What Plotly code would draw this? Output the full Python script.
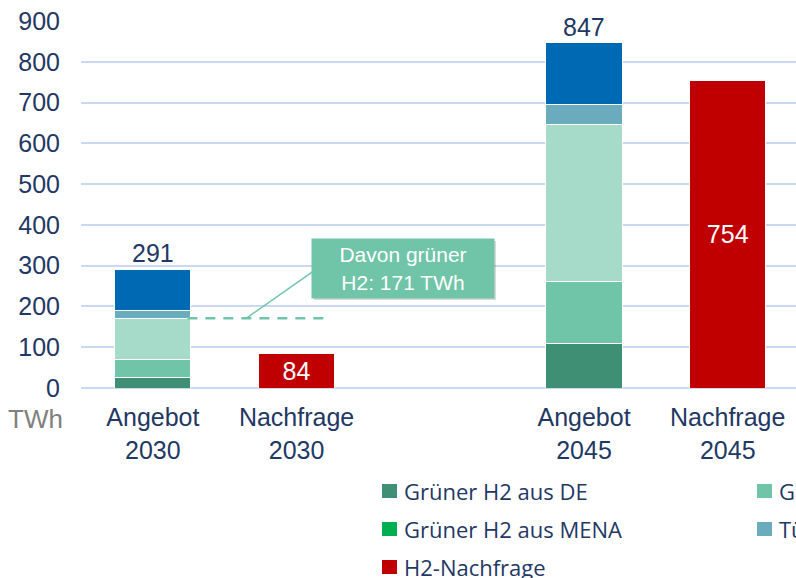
import plotly.graph_objects as go

# categories (the blank one is the gap between 2030 and 2045)
categories = ["Angebot<br>2030", "Nachfrage<br>2030", " ", "Angebot<br>2045", "Nachfrage<br>2045"]
supply_x = ["Angebot<br>2030", "Angebot<br>2045"]
demand_x = ["Nachfrage<br>2030", "Nachfrage<br>2045"]

# supply series in TWh (bottom to top)
green_de = [25, 108]
green_eu = [46, 152]
green_import = [100, 387]
green_mena = [0, 0]
turquoise = [19, 49]
blue = [101, 151]
demand = [84, 754]

series = [
    ("Grüner H2 aus DE", green_de, "#3E8F74"),
    ("Grüner H2 aus EU", green_eu, "#70C4A8"),
    ("Grüner H2 Import", green_import, "#A6DBC9"),
    ("Grüner H2 aus MENA", green_mena, "#00B050"),
    ("Türkiser H2", turquoise, "#6AABBE"),
    ("Blauer H2", blue, "#0069B4"),
]

NAVY = "#1F3864"
FONT = "Liberation Sans, Arial, sans-serif"

fig = go.Figure()
for name, vals, color in series:
    fig.add_trace(go.Bar(
        x=supply_x, y=vals, name=name, marker_color=color,
        marker_line=dict(color="white", width=1), showlegend=False,
    ))

fig.add_trace(go.Bar(
    x=demand_x, y=demand, name="H2-Nachfrage", marker_color="#C00000",
    marker_line=dict(color="white", width=1), showlegend=False,
    text=[str(v) for v in demand], textposition="inside",
    insidetextanchor="middle", textangle=0,
    textfont=dict(color="white", size=25, family=FONT),
))

# totals above supply bars
totals = [sum(s[1][i] for s in series) for i in range(len(supply_x))]
for xv, tot in zip(supply_x, totals):
    fig.add_annotation(x=xv, y=tot, text=str(tot), showarrow=False,
                       yanchor="bottom", font=dict(size=25, color=NAVY, family=FONT))

# green share 2030 callout
green_2030 = green_de[0] + green_eu[0] + green_import[0] + green_mena[0]
fig.add_shape(type="line", xref="x", yref="y", x0=0.24, x1=1.23, y0=green_2030, y1=green_2030,
              line=dict(color="#70C4A8", width=2.5, dash="10px,8px"))
fig.add_shape(type="line", xref="x", yref="y", x0=0.65, x1=1.11, y0=green_2030, y1=285,
              line=dict(color="#70C4A8", width=1.5))
# box shadow
fig.add_shape(type="rect", xref="paper", yref="paper",
              x0=(314 - 81) / 715, x1=(496 - 81) / 715,
              y0=(388 - 300) / 367, y1=(388 - 241) / 367,
              fillcolor="rgba(0,0,0,0.15)", line_width=0)
fig.add_annotation(
    xref="paper", yref="paper", x=(403 - 81) / 715, y=(388 - 268.5) / 367,
    xanchor="center", yanchor="middle",
    text=f"Davon grüner<br>H2: {green_2030} TWh", showarrow=False,
    bgcolor="#70C4A8", width=182, height=59, borderpad=0,
    font=dict(size=21, color="white", family=FONT),
)

# unit label
fig.add_annotation(xref="paper", yref="paper", x=0, y=0, xanchor="right", yanchor="middle",
                   xshift=-16, yshift=-31, text="TWh", showarrow=False,
                   font=dict(size=26, color="#808080", family=FONT))

# legend drawn by hand (the reference legend is cut off at the right edge)
legend_items = [
    ("Grüner H2 aus DE", "#3E8F74", 382, 491),
    ("Grüner H2 aus MENA", "#00B050", 382, 529),
    ("H2-Nachfrage", "#C00000", 382, 567),
    ("Grüner H2 aus EU", "#70C4A8", 757, 491),
    ("Türkiser H2", "#6AABBE", 757, 529),
]
for label, color, px, py in legend_items:
    fig.add_shape(type="rect", xref="paper", yref="paper",
                  x0=(px - 81) / 715, x1=(px + 15 - 81) / 715,
                  y0=(388 - py - 7) / 367, y1=(388 - py + 7) / 367,
                  fillcolor=color, line_width=0)
    fig.add_annotation(xref="paper", yref="paper", x=(px + 20 - 81) / 715, y=(388 - py) / 367,
                       xanchor="left", yanchor="middle", text=label, showarrow=False,
                       font=dict(size=22, color=NAVY, family="Open Sans, sans-serif"))

fig.update_layout(
    barmode="stack",
    bargap=0.47,
    width=796, height=578,
    margin=dict(l=81, r=0, t=21, b=190, autoexpand=False),
    plot_bgcolor="white", paper_bgcolor="white",
    font=dict(family=FONT, color=NAVY),
    xaxis=dict(categoryorder="array", categoryarray=categories, range=[-0.5, 4.475],
               tickfont=dict(size=25, color=NAVY), showgrid=False, ticks="",
               ticklabelstandoff=12),
    yaxis=dict(range=[0, 900], dtick=100, gridcolor="#C9DAF0", gridwidth=2,
               zeroline=True, zerolinecolor="#C9DAF0", zerolinewidth=2,
               tickfont=dict(size=25, color=NAVY), ticklabelstandoff=20),
)

fig.write_html("out.html", config={"displayModeBar": False},
               post_script="document.body.style.margin='0';")
